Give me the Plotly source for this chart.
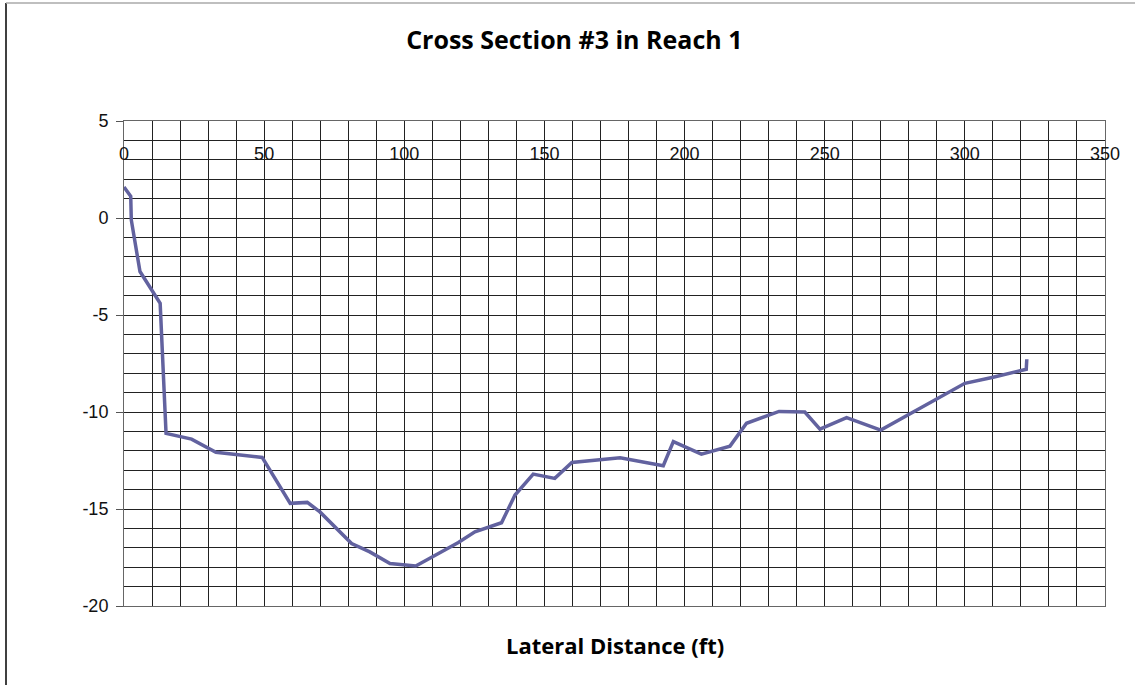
import plotly.graph_objects as go

# Data
lateral_distance_ft = [0, 2.4, 2.6, 5.7, 12.9, 15.0, 24.1, 32.8, 49.3, 59.3, 65.4, 69.9,
                       81.2, 87.7, 94.9, 104.1, 119.3, 125.2, 134.7, 139.5, 146.0, 153.7,
                       159.8, 177.0, 192.4, 196.0, 206.0, 216.2, 222.1, 233.7, 242.9,
                       248.3, 257.8, 270.0, 300.0, 310.1, 321.9, 322.1]
elevation_ft = [1.6, 1.12, -0.1, -2.76, -4.4, -11.1, -11.4, -12.08, -12.34, -14.71, -14.66,
                -15.15, -16.78, -17.21, -17.81, -17.94, -16.73, -16.18, -15.71, -14.28,
                -13.2, -13.42, -12.6, -12.36, -12.77, -11.53, -12.17, -11.76, -10.58,
                -9.97, -10.0, -10.88, -10.29, -10.93, -8.52, -8.21, -7.8, -7.28]

y_tick_values = [5, 0, -5, -10, -15, -20]
y_tick_labels = ["5", "0", "-5", "-10", "-15", "-20"]
x_tick_values = [0, 50, 100, 150, 200, 250, 300, 350]
x_tick_labels = ["0", "50", "100", "150", "200", "250", "300", "350"]

title_text = "Cross Section #3 in Reach 1"
x_title = "Lateral Distance (ft)"

W, H = 1135, 685
ML, MR, MT, MB = 124, 30, 121, 79
PW, PH = W - ML - MR, H - MT - MB

fig = go.Figure()
fig.add_trace(go.Scatter(
    x=lateral_distance_ft, y=elevation_ft, mode="lines",
    line=dict(color="#62629F", width=3.5), showlegend=False,
    hoverinfo="x+y"))

tick_font = dict(family="Liberation Sans", size=18, color="#111111")

fig.update_layout(
    width=W, height=H,
    margin=dict(l=ML, r=MR, t=MT, b=MB),
    paper_bgcolor="white", plot_bgcolor="white",
    title=dict(text="<b>%s</b>" % title_text, x=0.506, xref="container", xanchor="center",
               y=1 - 40 / H, yref="container", yanchor="middle",
               font=dict(family="Open Sans", size=25, color="#000000")),
    xaxis=dict(
        range=[0, 350], side="top", tickmode="array",
        tickvals=x_tick_values, ticktext=x_tick_labels,
        showgrid=True, gridcolor="#222222", gridwidth=1,
        minor=dict(dtick=10, tick0=0, showgrid=True, gridcolor="#222222", gridwidth=1),
        ticks="", ticklabelposition="inside", ticklabeloverflow="allow",
        ticklabelstandoff=27,
        tickfont=tick_font,
        showline=True, linecolor="#666666", linewidth=1, mirror=True,
        zeroline=False, fixedrange=True,
    ),
    yaxis=dict(
        range=[-20, 5], tickmode="array",
        tickvals=y_tick_values, ticktext=y_tick_labels,
        showgrid=True, gridcolor="#222222", gridwidth=1,
        minor=dict(dtick=1, tick0=0, showgrid=True, gridcolor="#222222", gridwidth=1),
        ticks="outside", ticklen=7, tickcolor="#555555",
        tickfont=tick_font, ticklabelstandoff=4,
        showline=True, linecolor="#666666", linewidth=1, mirror=True,
        zeroline=False, fixedrange=True,
    ),
)

# x-axis title as annotation below the plot area
fig.add_annotation(text="<b>%s</b>" % x_title, xref="paper", yref="paper",
                   x=0.5, y=-(645 - (H - MB)) / PH, xanchor="center", yanchor="middle",
                   showarrow=False, font=dict(family="Open Sans", size=22, color="#000000"))

# chart outer border (left and top edges)
xl = (6 - ML) / PW
yt = (H - MB - 3) / PH
yb = -(MB) / PH
fig.add_shape(type="line", xref="paper", yref="paper", x0=xl, x1=xl, y0=yb, y1=yt,
              line=dict(color="#000000", width=1.5))
fig.add_shape(type="line", xref="paper", yref="paper", x0=xl, x1=(W - ML) / PW, y0=yt, y1=yt,
              line=dict(color="#aaaaaa", width=1.5))

fig.write_html("out.html", config={"displayModeBar": False},
               post_script="document.body.style.margin='0';")
